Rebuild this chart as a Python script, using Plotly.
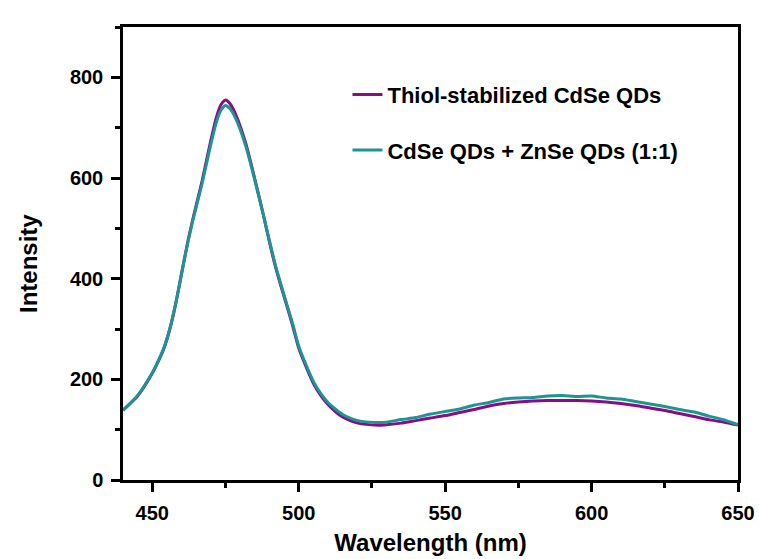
import plotly.graph_objects as go

wavelength = [440, 445, 450, 452, 454, 456, 458, 460, 462, 464, 467, 470, 472, 473.5, 475, 476.5,
              478.5, 482, 485, 488, 490, 492, 494, 496, 498, 500, 502.5, 505, 507.5, 510, 512.5,
              515, 518, 521, 524, 527, 530, 535, 540, 545,
              550, 555, 560, 565, 570, 575, 580, 585, 590, 595, 600, 605, 610, 615, 620, 625,
              630, 635, 640, 645, 650]

cdse = [139, 167, 212, 235, 262, 300, 350, 410, 470, 522, 594, 675, 723, 746, 755, 748,
        726, 667, 598, 525, 473, 425, 384, 345, 305, 262, 225, 192, 168, 150, 136,
        125, 117, 112, 110, 109, 110, 113, 118, 123,
        128, 134, 140, 147, 152, 155, 157, 158, 158, 158, 157, 155, 152, 148, 143, 138,
        132, 126, 120, 115, 109]

cdse_znse = [138, 168, 213, 236, 263, 301, 351, 410, 468, 519, 589, 667, 713, 735, 744, 738,
             718, 662, 596, 525, 475, 428, 387, 348, 309, 266, 229, 196, 172, 154, 141,
             130, 122, 117, 115, 114, 115, 120, 124, 131,
             136, 141, 149, 154, 161, 163, 164, 167, 168, 166, 167, 163, 161, 156, 151, 146,
             140, 135, 127, 120, 110]

names = ["Thiol-stabilized CdSe QDs", "CdSe QDs + ZnSe QDs (1:1)"]
colors = ["#850e85", "#1e9494"]

x_ticks = [450, 500, 550, 600, 650]
y_ticks = [0, 200, 400, 600, 800]

fig = go.Figure()
for i, (ys, name, col) in enumerate(zip([cdse, cdse_znse], names, colors)):
    fig.add_trace(go.Scatter(x=wavelength, y=ys, mode="lines", name=name,
                             line=dict(color=col, width=3, shape="spline", smoothing=0.6),
                             legendgroup=str(i)))

font_family = "Liberation Sans, Arial, sans-serif"
axis_common = dict(showline=True, linecolor="black", linewidth=2.5, mirror=True,
                   ticks="outside", ticklen=9, tickwidth=2.5, tickcolor="black",
                   showgrid=False, zeroline=False, ticklabelstandoff=4,
                   tickfont=dict(family=font_family, size=20, color="black", weight="bold"))

fig.update_xaxes(range=[440, 650], tickvals=x_ticks,
                 minor=dict(dtick=25, tick0=0, ticks="outside", ticklen=5, tickwidth=2.5, tickcolor="black"),
                 title=dict(text="<b>Wavelength (nm)</b>", standoff=12,
                            font=dict(family=font_family, size=24, color="black")),
                 **axis_common)
fig.update_yaxes(range=[0, 900], tickvals=y_ticks,
                 minor=dict(dtick=100, tick0=0, ticks="outside", ticklen=5, tickwidth=2.5, tickcolor="black"),
                 **axis_common)

fig.add_annotation(text="<b>Intensity</b>", xref="paper", yref="paper",
                   x=-0.1545, y=0.479, xanchor="center", yanchor="middle",
                   textangle=-90, showarrow=False,
                   font=dict(family=font_family, size=24, color="black"))

fig.update_layout(
    width=759, height=559,
    margin=dict(l=123, r=21, t=27, b=79, autoexpand=False),
    paper_bgcolor="white", plot_bgcolor="white",
    showlegend=True,
    legend=dict(x=0.365, y=0.897, xanchor="left", yanchor="top",
                bgcolor="rgba(0,0,0,0)", borderwidth=0,
                tracegroupgap=24, traceorder="grouped",
                font=dict(family=font_family, size=22, color="black", weight="bold")),
)

fig.write_html("out.html",
               config={"displayModeBar": False},
               post_script="document.body.style.margin='0';document.body.style.overflow='hidden';")
